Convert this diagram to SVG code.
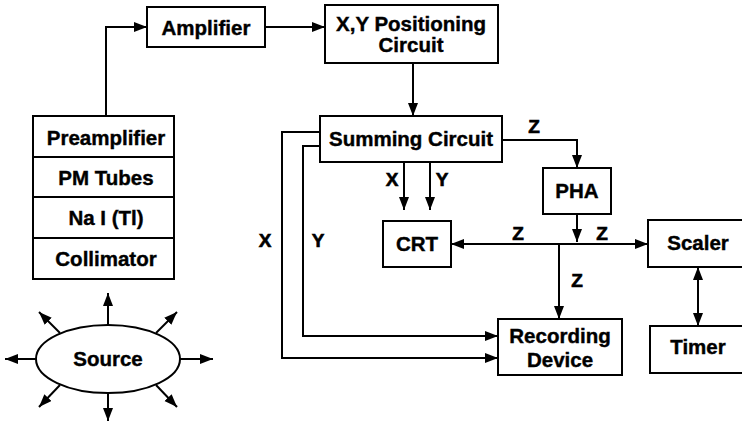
<svg xmlns="http://www.w3.org/2000/svg" width="742" height="430" viewBox="0 0 742 430">
<style>
.box{fill:#fff;stroke:#000;stroke-width:2}
.ln{fill:none;stroke:#000;stroke-width:2}
.t{font-family:"Liberation Sans",Arial,sans-serif;font-weight:bold;font-size:20.5px;text-anchor:middle;fill:#000;stroke:#000;stroke-width:0.4}
.lbl{font-family:"Liberation Sans",Arial,sans-serif;font-weight:bold;font-size:19px;text-anchor:middle;fill:#000;stroke:#000;stroke-width:0.6}
</style>
<defs>
<marker id="ah" markerUnits="userSpaceOnUse" markerWidth="14" markerHeight="11" refX="13" refY="5" orient="auto-start-reverse" viewBox="0 0 14 11">
<path d="M0,0 L13,5 L0,10 z" fill="#000"/>
</marker>
</defs>
<rect width="742" height="430" fill="#fff"/>
<g id="connectors">
<path class="ln" d="M106,116 V27 H147" marker-end="url(#ah)"/>
<path class="ln" d="M265,27 H325" marker-end="url(#ah)"/>
<path class="ln" d="M413,63 V116" marker-end="url(#ah)"/>
<path class="ln" d="M502,140 H577 V168" marker-end="url(#ah)"/>
<path class="ln" d="M404,162 V210" marker-end="url(#ah)"/>
<path class="ln" d="M430,162 V210" marker-end="url(#ah)"/>
<path class="ln" d="M577,214 V242" marker-end="url(#ah)"/>
<path class="ln" d="M451,244 H648" marker-start="url(#ah)" marker-end="url(#ah)"/>
<path class="ln" d="M559,244 V319" marker-end="url(#ah)"/>
<path class="ln" d="M698,267 V326" marker-start="url(#ah)" marker-end="url(#ah)"/>
<path class="ln" d="M320,132 H282 V358 H498" marker-end="url(#ah)"/>
<path class="ln" d="M320,146 H303 V336 H498" marker-end="url(#ah)"/>
<path class="ln" d="M108,325 V293" marker-end="url(#ah)"/>
<path class="ln" d="M108,393 V421" marker-end="url(#ah)"/>
<path class="ln" d="M36,359 H5" marker-end="url(#ah)"/>
<path class="ln" d="M180,359 H213" marker-end="url(#ah)"/>
<path class="ln" d="M60,333 L39,312" marker-end="url(#ah)"/>
<path class="ln" d="M156,333 L177,312" marker-end="url(#ah)"/>
<path class="ln" d="M60,385 L39,407" marker-end="url(#ah)"/>
<path class="ln" d="M156,385 L177,407" marker-end="url(#ah)"/>
<text class="lbl" x="265" y="247">X</text>
<text class="lbl" x="318" y="247">Y</text>
<text class="lbl" x="392" y="186">X</text>
<text class="lbl" x="442" y="186">Y</text>
<text class="lbl" x="534" y="133">Z</text>
<text class="lbl" x="518" y="240">Z</text>
<text class="lbl" x="602" y="240">Z</text>
<text class="lbl" x="577" y="287">Z</text>
</g>
<g id="detector">
<rect class="box" x="33" y="116" width="141" height="163"/>
<line class="ln" x1="33" y1="157" x2="174" y2="157"/>
<line class="ln" x1="33" y1="197" x2="174" y2="197"/>
<line class="ln" x1="33" y1="238" x2="174" y2="238"/>
<text class="t" x="106" y="145">Preamplifier</text>
<text class="t" x="106" y="185">PM Tubes</text>
<text class="t" x="106" y="225">Na I (Tl)</text>
<text class="t" x="106" y="266">Collimator</text>
</g>
<g id="amplifier">
<rect class="box" x="147" y="7" width="118" height="40"/>
<text class="t" x="206" y="35">Amplifier</text>
</g>
<g id="xy-positioning">
<rect class="box" x="325" y="5" width="173" height="58"/>
<text class="t" x="411" y="31">X,Y Positioning</text>
<text class="t" x="411" y="52">Circuit</text>
</g>
<g id="summing">
<rect class="box" x="320" y="116" width="182" height="46"/>
<text class="t" x="411" y="146">Summing Circuit</text>
</g>
<g id="crt">
<rect class="box" x="383" y="221" width="68" height="46"/>
<text class="t" x="417" y="251">CRT</text>
</g>
<g id="pha">
<rect class="box" x="543" y="168" width="68" height="46"/>
<text class="t" x="577" y="198">PHA</text>
</g>
<g id="scaler">
<rect class="box" x="648" y="220" width="100" height="47"/>
<text class="t" x="698" y="250">Scaler</text>
</g>
<g id="timer">
<rect class="box" x="650" y="326" width="100" height="47"/>
<text class="t" x="698" y="354">Timer</text>
</g>
<g id="recording">
<rect class="box" x="498" y="319" width="124" height="56"/>
<text class="t" x="560" y="343">Recording</text>
<text class="t" x="560" y="367">Device</text>
</g>
<g id="source">
<ellipse class="box" cx="108" cy="359" rx="72" ry="34"/>
<text class="t" x="108" y="366">Source</text>
</g>
</svg>
